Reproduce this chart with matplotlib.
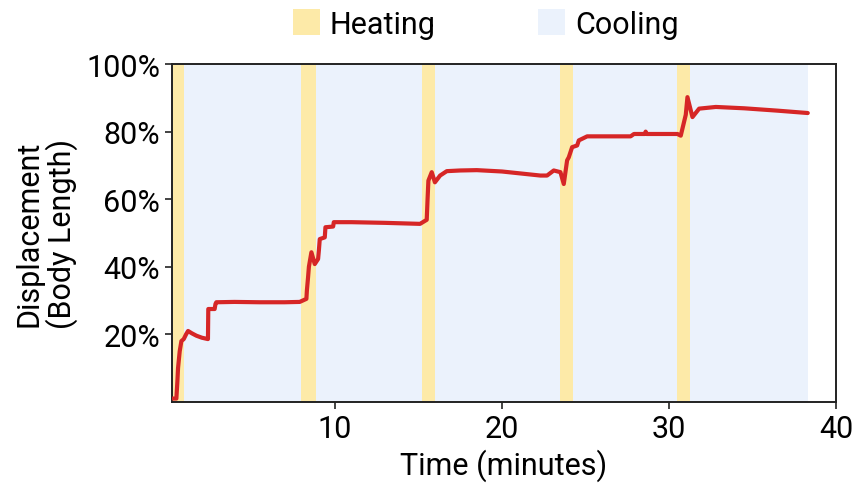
import matplotlib
matplotlib.use("Agg")
import matplotlib.pyplot as plt
from matplotlib.patches import Patch
from matplotlib.ticker import PercentFormatter

plt.rcParams['font.family'] = ['Roboto', 'DejaVu Sans']

# Displacement trace (time in minutes, displacement as fraction of body length)
time_min = [0.28, 0.52, 0.58, 0.62, 0.72, 0.82, 0.96, 1.10, 1.22, 1.45, 1.72, 2.05, 2.41,
            2.43, 2.81, 2.86, 2.91, 4.0, 5.5, 7.0, 7.9, 8.3, 8.33, 8.4, 8.45, 8.6, 8.8,
            9.0, 9.05, 9.1, 9.4, 9.44, 9.9, 9.94, 11.0, 13.0, 15.1, 15.5, 15.55, 15.6,
            15.8, 15.99, 16.3, 16.7, 17.5, 18.5, 20.0, 22.3, 22.7, 23.1, 23.5, 23.7,
            23.9, 24.0, 24.2, 24.5, 24.6, 25.1, 27.7, 27.9, 28.55, 28.6, 28.65, 30.5,
            30.7, 31.0, 31.1, 31.4, 31.8, 32.8, 34.5, 36.5, 38.3]
displacement = [0.01, 0.01, 0.06, 0.10, 0.15, 0.18, 0.186, 0.20, 0.21, 0.203, 0.196, 0.19,
                0.186, 0.275, 0.275, 0.29, 0.295, 0.296, 0.295, 0.295, 0.296, 0.305,
                0.33, 0.369, 0.40, 0.443, 0.408, 0.423, 0.45, 0.482, 0.487, 0.517, 0.519,
                0.532, 0.532, 0.530, 0.527, 0.539, 0.60, 0.655, 0.68, 0.65, 0.67, 0.683,
                0.685, 0.686, 0.682, 0.670, 0.670, 0.685, 0.68, 0.645, 0.715, 0.724,
                0.754, 0.759, 0.774, 0.786, 0.786, 0.793, 0.793, 0.80, 0.793, 0.793,
                0.788, 0.85, 0.902, 0.843, 0.868, 0.873, 0.869, 0.862, 0.855]

# Heating intervals (start, end) in minutes; cooling fills the rest up to the end of the run
heating_start = [0.0, 8.0, 15.2, 23.5, 30.5]
heating_end = [1.0, 8.85, 16.0, 24.25, 31.25]
run_end = 38.3

heat_color = '#FDEAA8'
cool_color = '#EBF2FC'
line_color = '#D62626'

fig, ax = plt.subplots(figsize=(8.55, 4.89), dpi=100)
fig.subplots_adjust(left=0.201, right=0.978, bottom=0.176, top=0.867)

# Cooling periods between heating pulses
for i, start in enumerate(heating_end):
    stop = heating_start[i + 1] if i + 1 < len(heating_start) else run_end
    ax.axvspan(start, stop, color=cool_color, lw=0, zorder=0)
for s, e in zip(heating_start, heating_end):
    ax.axvspan(s, e, color=heat_color, lw=0, zorder=1)

ax.plot(time_min, displacement, color=line_color, lw=3.0, solid_joinstyle='round',
        solid_capstyle='round', zorder=3)

ax.set_xlim(0.25, 40)
ax.set_ylim(0, 1.0)
ax.set_xticks([10, 20, 30, 40])
ax.set_yticks([0.2, 0.4, 0.6, 0.8, 1.0])
ax.yaxis.set_major_formatter(PercentFormatter(1.0, decimals=0))
ax.tick_params(labelsize=22, length=5, width=1.2, colors='#222222', labelcolor='black')
for sp in ax.spines.values():
    sp.set_linewidth(1.4)
    sp.set_color('#222222')

ax.set_xlabel('Time (minutes)', fontsize=22, labelpad=4)
ax.set_ylabel('Displacement\n(Body Length)', fontsize=22, linespacing=1.05, labelpad=6)

handles = [Patch(facecolor=heat_color, edgecolor='none', label='Heating'),
           Patch(facecolor=cool_color, edgecolor='none', label='Cooling')]
fig.legend(handles=handles, loc='upper center', bbox_to_anchor=(0.568, 1.035), ncol=2,
           frameon=False, fontsize=22, handlelength=0.88, handleheight=0.9,
           handletextpad=0.33, columnspacing=3.35)

fig.savefig('out.png', dpi=100)
